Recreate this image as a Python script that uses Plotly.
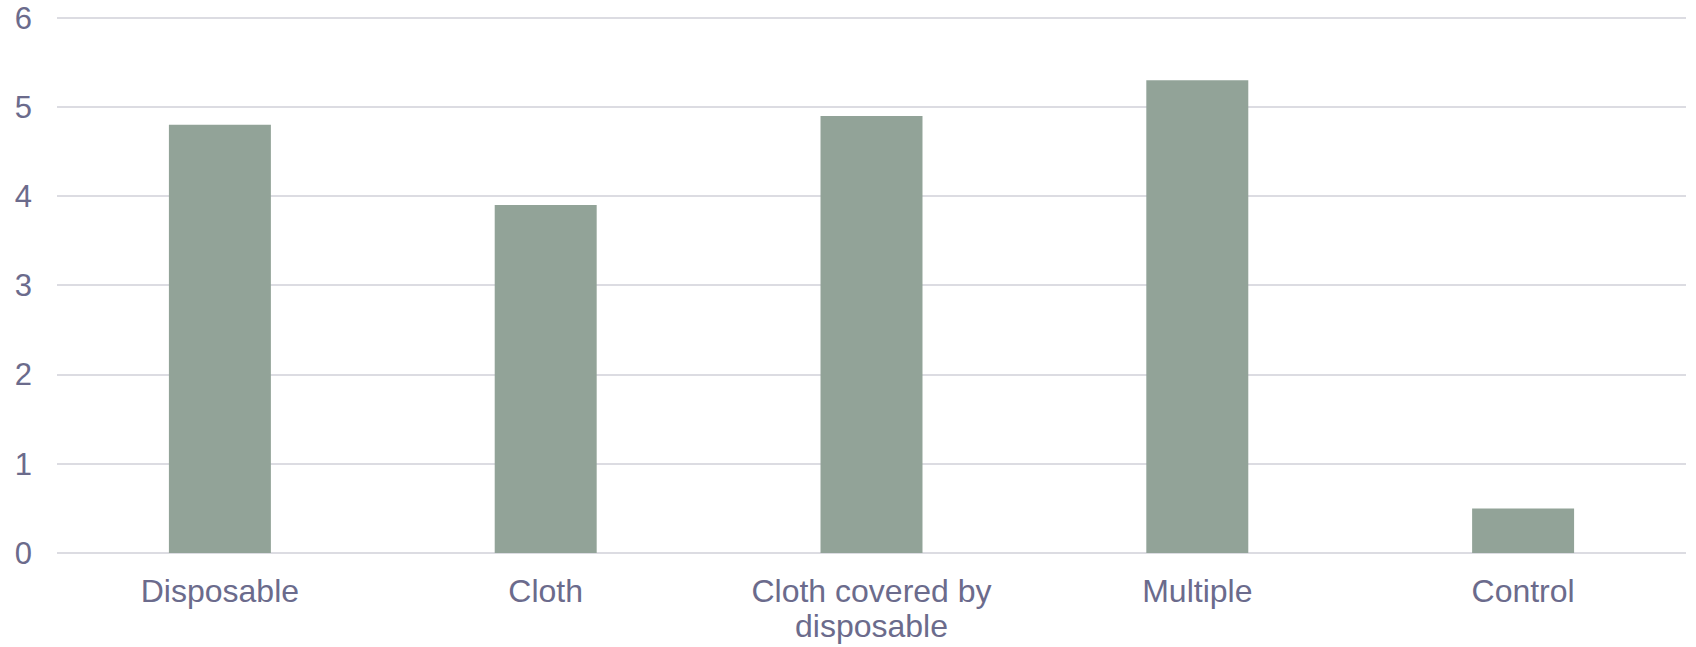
import plotly.graph_objects as go

categories = ["Disposable", "Cloth", "Cloth covered by disposable", "Multiple", "Control"]
label_line1 = ["Disposable", "Cloth", "Cloth covered by", "Multiple", "Control"]
label_line2 = ["", "", "disposable", "", ""]
values = [4.8, 3.9, 4.9, 5.3, 0.5]
y_ticks = [0, 1, 2, 3, 4, 5, 6]

text_color = "#6b6b8c"
bar_color = "#92a398"
grid_color = "#dcdce2"
font_family = "Liberation Sans, Arial, sans-serif"

fig = go.Figure(go.Bar(x=categories, y=values, marker=dict(color=bar_color, line=dict(width=0)),
                       width=0.313))

for cat, l2 in zip(categories, label_line2):
    if l2:
        fig.add_annotation(x=cat, xref="x", y=0, yref="paper", yanchor="top", yshift=-53,
                           text=l2, showarrow=False,
                           font=dict(family=font_family, size=32, color=text_color))

fig.update_layout(
    width=1696, height=647,
    margin=dict(l=57, r=10, t=16, b=94),
    paper_bgcolor="white", plot_bgcolor="white",
    font=dict(family=font_family, size=32, color=text_color),
    showlegend=False,
    bargap=0.687,
)
fig.update_yaxes(range=[0, 6.02], tickvals=y_ticks, showgrid=True, gridcolor=grid_color, gridwidth=1.5,
                 zeroline=True, zerolinecolor=grid_color, zerolinewidth=1.5, showline=False,
                 ticks="", ticklabelstandoff=24, tickfont=dict(size=31), automargin=False)
fig.update_xaxes(tickvals=categories, ticktext=label_line1, showgrid=False, showline=False, ticks="",
                 ticklabelstandoff=16, tickfont=dict(size=32), automargin=False)

fig.write_html("out.html")
